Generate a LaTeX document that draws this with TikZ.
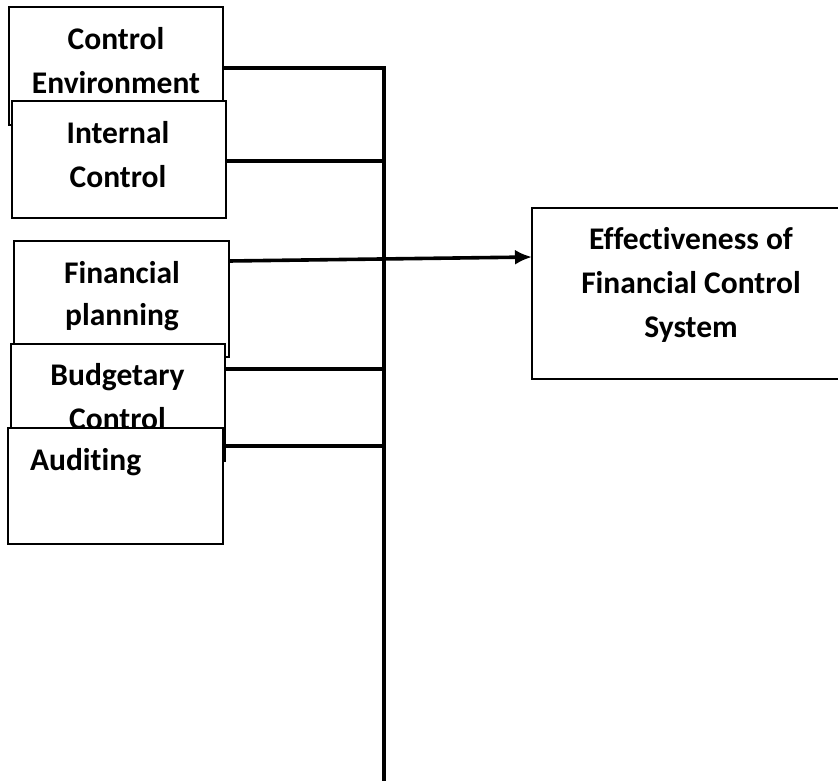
\documentclass[tikz,border=0pt]{standalone}
\usepackage{fontspec}
\setmainfont{Carlito}[Ligatures=NoCommon]
\usetikzlibrary{arrows.meta}
\tikzset{
  box/.style={draw=black, line width=1.6pt, fill=white, rectangle, inner sep=0pt, outer sep=0pt},
  txt/.style={font=\fontsize{31.5}{44}\selectfont\bfseries, inner sep=0pt, outer sep=0pt, anchor=base},
  conn/.style={line width=3.6pt, draw=black},
}
\begin{document}
\begin{tikzpicture}[x=1pt, y=-1pt]
\useasboundingbox (0,0) rectangle (838,781);
\clip (0,0) rectangle (838,781);
\fill[white] (0,0) rectangle (838,781);
% Control Environment
\node[box, minimum width=214pt, minimum height=118pt] (b1) at (116,66) {};
\node[txt] (t1a) at (116,50) {Control};
\node[txt] (t1b) at (116,94) {Environment};
% Internal Control
\node[box, minimum width=214pt, minimum height=117pt] (b2) at (119,159.5) {};
\node[txt] (t2a) at (118,143) {Internal};
\node[txt] (t2b) at (118,187) {Control};
% Financial planning
\node[box, minimum width=215pt, minimum height=116pt] (b3) at (121.5,299) {};
\node[txt] (t3a) at (122,283) {Financial};
\node[txt] (t3b) at (122,325) {planning};
% Budgetary Control
\node[box, minimum width=214pt, minimum height=117pt] (b4) at (118,402.5) {};
\node[txt] (t4a) at (117.5,385) {Budgetary};
\node[txt] (t4b) at (117.5,429) {Control};
% Auditing
\node[box, minimum width=215pt, minimum height=116pt] (b5) at (115.5,486) {};
\node[txt, anchor=base west] (t5) at (30,470) {Auditing};
% Effectiveness
\node[box, minimum width=328pt, minimum height=171pt] (eff) at (696,293.5) {};
\node[txt] (e1) at (691,249) {Effectiveness of};
\node[txt] (e2) at (691,293) {Financial Control};
\node[txt] (e3) at (691,337) {System};
% bus
\coordinate (busbot) at (384,781);
\draw[conn] ([yshift=-61pt]b1.north east) -| (busbot);
\draw[conn] ([yshift=-60pt]b2.north east) -- ([yshift=-60pt,xshift=2pt]b2.north east -| busbot);
\draw[conn] ([yshift=-25pt]b4.north east) -- ([yshift=-25pt,xshift=2pt]b4.north east -| busbot);
\draw[conn] ([yshift=-18pt]b5.north east) -- ([yshift=-18pt,xshift=2pt]b5.north east -| busbot);
\draw[conn, -{Latex[length=17pt, width=15pt]}] ([yshift=-20pt]b3.north east) -- ([yshift=-49pt]eff.north west);
\end{tikzpicture}
\end{document}
